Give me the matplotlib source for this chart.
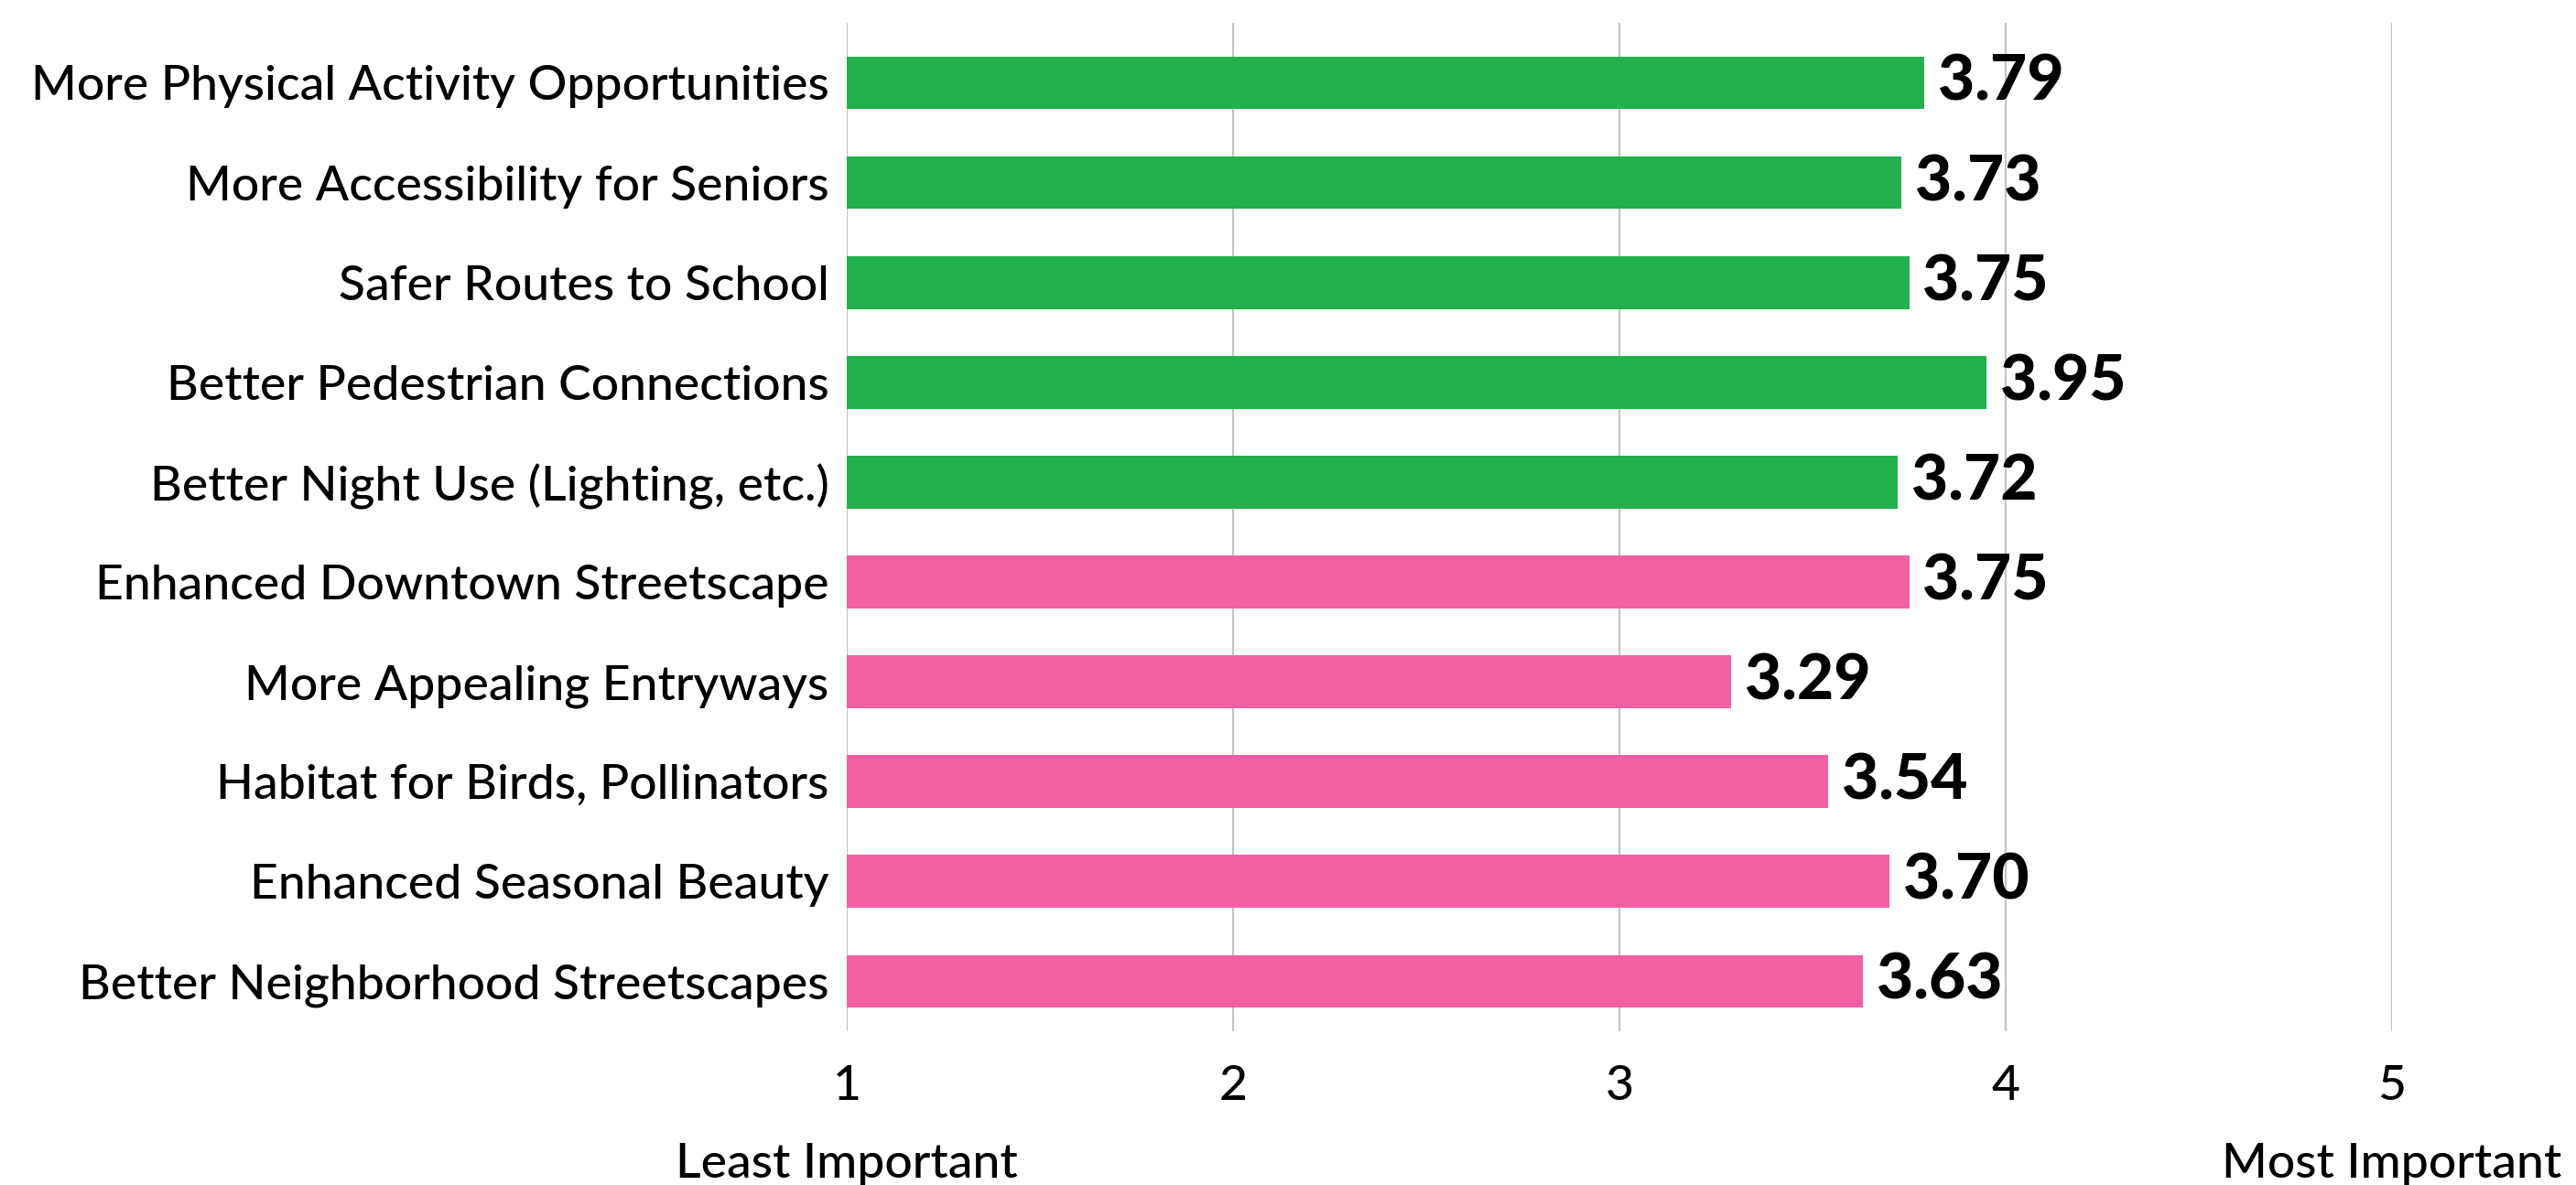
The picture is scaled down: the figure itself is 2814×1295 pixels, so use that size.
import matplotlib
matplotlib.use('Agg')
import matplotlib.pyplot as plt
import numpy as np

plt.rcParams['font.family'] = ['Lato', 'DejaVu Sans']

categories = ['More Physical Activity Opportunities',
              'More Accessibility for Seniors',
              'Safer Routes to School',
              'Better Pedestrian Connections',
              'Better Night Use (Lighting, etc.)',
              'Enhanced Downtown Streetscape',
              'More Appealing Entryways',
              'Habitat for Birds, Pollinators',
              'Enhanced Seasonal Beauty',
              'Better Neighborhood Streetscapes']
scores = [3.79, 3.73, 3.75, 3.95, 3.72, 3.75, 3.29, 3.54, 3.70, 3.63]
groups = ['health'] * 5 + ['beauty'] * 5
xticks = [1, 2, 3, 4, 5]

colors = {'health': '#22B14C', 'beauty': '#F160A3'}

W, H = 2814, 1295
fig = plt.figure(figsize=(W / 100, H / 100), dpi=100)
# axes placed in pixel terms of the reference
left, right, top, bottom = 925, 2613, 25, 1127
ax = fig.add_axes([left / W, 1 - bottom / H, (right - left) / W, (bottom - top) / H])

y = np.arange(len(categories))
ax.barh(y, [s - 1 for s in scores], left=1, height=0.53,
        color=[colors[g] for g in groups], zorder=3)

for yi, s in zip(y, scores):
    ax.text(s + 0.035, yi, '%.2f' % s, va='center', ha='left',
            fontsize=50, fontweight='black', color='black', zorder=4)

fs = 38.5
ax.set_xlim(1, 5)
ax.set_ylim(9.5, -0.6)
ax.set_xticks(xticks)
ax.set_xticklabels([str(t) for t in xticks], fontweight='medium')
ax.set_yticks(y)
ax.set_yticklabels(categories, fontweight='medium')
ax.tick_params(axis='y', length=0, pad=14, labelsize=fs)
ax.tick_params(axis='x', length=0, pad=27, labelsize=fs)

for t in xticks:
    ax.axvline(t, color='#c4c4c4', lw=1.6, zorder=1)
for sp in ax.spines.values():
    sp.set_visible(False)

ax.text(1, -0.145, 'Least Important', transform=ax.get_xaxis_transform(),
        ha='center', va='baseline', fontsize=fs, fontweight='medium')
ax.text(5, -0.145, 'Most Important', transform=ax.get_xaxis_transform(),
        ha='center', va='baseline', fontsize=fs, fontweight='medium')

fig.savefig('out.png', dpi=100)
